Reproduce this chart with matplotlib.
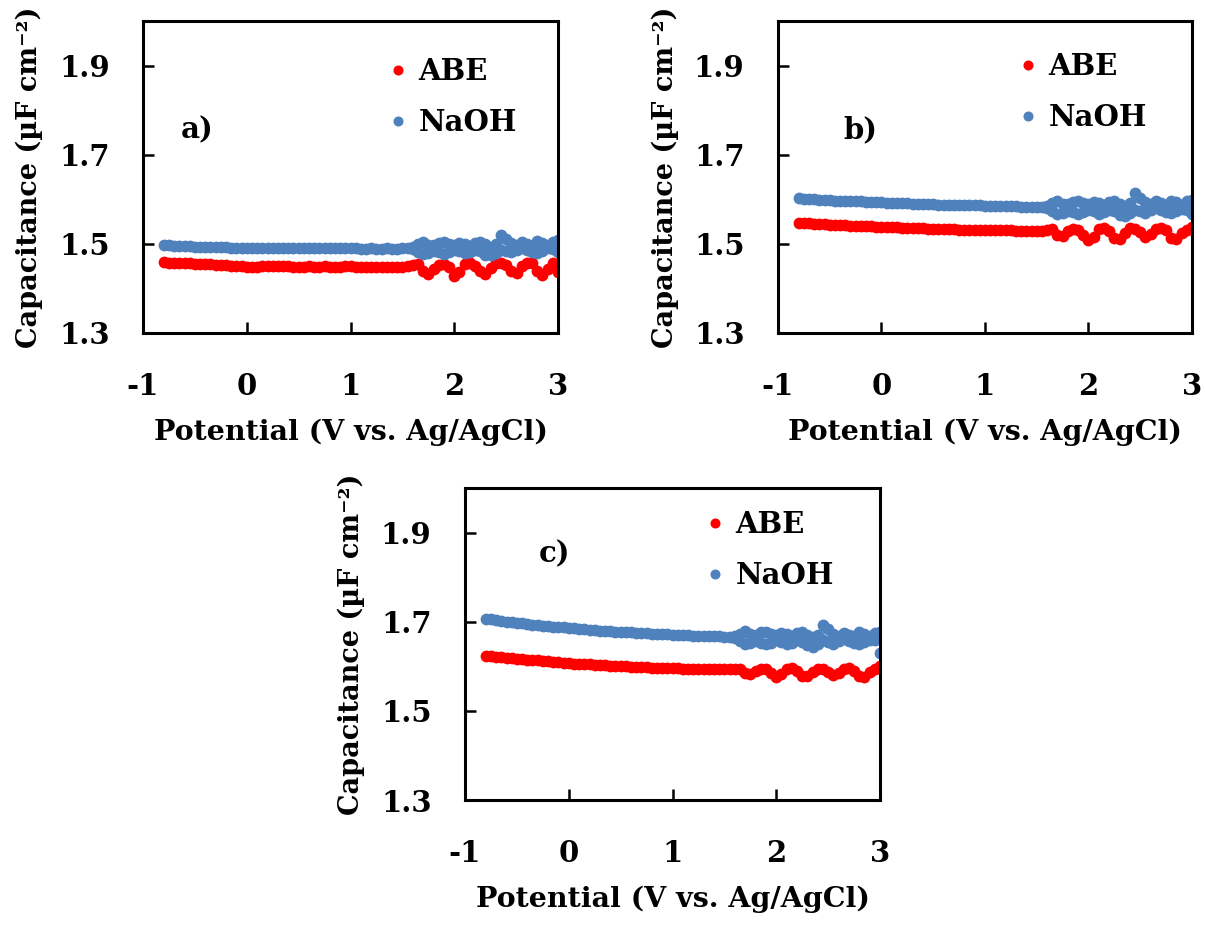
import matplotlib
matplotlib.use("Agg")
import matplotlib.pyplot as plt

plt.rcParams['font.family'] = ['DejaVu Serif']
plt.rcParams['font.weight'] = 'bold'
plt.rcParams['axes.unicode_minus'] = False

# ---------------- data ----------------
potential = [-0.80, -0.75, -0.70, -0.65, -0.60, -0.55, -0.50, -0.45, -0.40, -0.35,
             -0.30, -0.25, -0.20, -0.15, -0.10, -0.05, 0.00, 0.05, 0.10, 0.15,
             0.20, 0.25, 0.30, 0.35, 0.40, 0.45, 0.50, 0.55, 0.60, 0.65,
             0.70, 0.75, 0.80, 0.85, 0.90, 0.95, 1.00, 1.05, 1.10, 1.15,
             1.20, 1.25, 1.30, 1.35, 1.40, 1.45, 1.50, 1.55, 1.60, 1.65,
             1.70, 1.75, 1.80, 1.85, 1.90, 1.95, 2.00, 2.05, 2.10, 2.15,
             2.20, 2.25, 2.30, 2.35, 2.40, 2.45, 2.50, 2.55, 2.60, 2.65,
             2.70, 2.75, 2.80, 2.85, 2.90, 2.95, 3.00]

# return-scan points in the high-potential region
potential_rev = [1.60, 1.65, 1.70, 1.75, 1.80, 1.85, 1.90, 1.95, 2.00, 2.05,
                 2.10, 2.15, 2.20, 2.25, 2.30, 2.35, 2.40, 2.45, 2.50, 2.55,
                 2.60, 2.65, 2.70, 2.75, 2.80, 2.85, 2.90, 2.95, 3.00]

abe_a = [1.459, 1.458, 1.457, 1.457, 1.456, 1.456, 1.455, 1.455, 1.454, 1.454,
         1.453, 1.453, 1.452, 1.451, 1.451, 1.450, 1.449, 1.449, 1.449, 1.450,
         1.450, 1.450, 1.451, 1.450, 1.450, 1.449, 1.449, 1.449, 1.450, 1.449,
         1.449, 1.450, 1.449, 1.449, 1.449, 1.450, 1.450, 1.449, 1.448, 1.448,
         1.449, 1.448, 1.448, 1.449, 1.448, 1.447, 1.448, 1.450, 1.452, 1.455,
         1.440, 1.432, 1.444, 1.452, 1.454, 1.448, 1.428, 1.436, 1.455, 1.458,
         1.450, 1.438, 1.432, 1.446, 1.457, 1.456, 1.452, 1.440, 1.434, 1.450,
         1.458, 1.456, 1.440, 1.430, 1.443, 1.458, 1.436]
naoh_a = [1.497, 1.497, 1.496, 1.496, 1.495, 1.495, 1.494, 1.494, 1.494, 1.493,
          1.493, 1.492, 1.492, 1.491, 1.491, 1.490, 1.490, 1.490, 1.490, 1.490,
          1.491, 1.491, 1.490, 1.490, 1.490, 1.490, 1.491, 1.490, 1.490, 1.490,
          1.490, 1.490, 1.490, 1.490, 1.490, 1.491, 1.490, 1.490, 1.489, 1.489,
          1.490, 1.489, 1.489, 1.490, 1.489, 1.489, 1.490, 1.490, 1.492, 1.499,
          1.505, 1.498, 1.497, 1.502, 1.503, 1.499, 1.497, 1.501, 1.499, 1.496,
          1.502, 1.505, 1.499, 1.494, 1.499, 1.520, 1.510, 1.501, 1.497, 1.503,
          1.499, 1.496, 1.507, 1.502, 1.497, 1.505, 1.508]
naoh_a_rev = [1.489, 1.482, 1.478, 1.480, 1.484, 1.481, 1.478, 1.482, 1.486, 1.483,
              1.479, 1.482, 1.487, 1.483, 1.476, 1.474, 1.480, 1.487, 1.484, 1.481,
              1.486, 1.491, 1.487, 1.482, 1.480, 1.485, 1.490, 1.488, 1.481]

abe_b = [1.547, 1.546, 1.546, 1.545, 1.545, 1.544, 1.543, 1.543, 1.542, 1.542,
         1.541, 1.540, 1.540, 1.539, 1.539, 1.538, 1.538, 1.537, 1.537, 1.537,
         1.536, 1.536, 1.535, 1.535, 1.535, 1.534, 1.534, 1.534, 1.533, 1.533,
         1.533, 1.532, 1.532, 1.532, 1.531, 1.531, 1.531, 1.531, 1.530, 1.530,
         1.530, 1.530, 1.529, 1.529, 1.529, 1.529, 1.528, 1.529, 1.531, 1.533,
         1.520, 1.518, 1.528, 1.534, 1.532, 1.520, 1.509, 1.516, 1.533, 1.536,
         1.528, 1.512, 1.510, 1.524, 1.535, 1.534, 1.526, 1.516, 1.522, 1.533,
         1.536, 1.530, 1.512, 1.510, 1.524, 1.532, 1.538]
naoh_b = [1.602, 1.601, 1.600, 1.600, 1.599, 1.599, 1.598, 1.597, 1.597, 1.596,
          1.596, 1.595, 1.595, 1.594, 1.594, 1.593, 1.593, 1.592, 1.592, 1.591,
          1.591, 1.591, 1.590, 1.590, 1.589, 1.589, 1.589, 1.588, 1.588, 1.588,
          1.587, 1.587, 1.587, 1.586, 1.586, 1.586, 1.585, 1.585, 1.585, 1.584,
          1.584, 1.584, 1.584, 1.583, 1.583, 1.583, 1.582, 1.582, 1.584, 1.591,
          1.597, 1.590, 1.589, 1.594, 1.595, 1.591, 1.589, 1.593, 1.591, 1.588,
          1.593, 1.596, 1.590, 1.585, 1.591, 1.614, 1.603, 1.593, 1.590, 1.595,
          1.591, 1.588, 1.597, 1.593, 1.588, 1.595, 1.598]
naoh_b_rev = [1.581, 1.574, 1.568, 1.570, 1.574, 1.571, 1.567, 1.571, 1.577, 1.573,
              1.568, 1.571, 1.577, 1.573, 1.565, 1.563, 1.569, 1.577, 1.573, 1.570,
              1.575, 1.580, 1.576, 1.571, 1.569, 1.574, 1.579, 1.577, 1.566]

abe_c = [1.623, 1.622, 1.621, 1.620, 1.619, 1.618, 1.617, 1.616, 1.615, 1.614,
         1.613, 1.612, 1.611, 1.610, 1.609, 1.608, 1.607, 1.606, 1.606, 1.605,
         1.604, 1.603, 1.603, 1.602, 1.601, 1.601, 1.600, 1.600, 1.599, 1.599,
         1.598, 1.598, 1.597, 1.597, 1.597, 1.596, 1.596, 1.596, 1.595, 1.595,
         1.595, 1.594, 1.594, 1.594, 1.593, 1.593, 1.593, 1.593, 1.594, 1.595,
         1.585, 1.582, 1.590, 1.595, 1.593, 1.584, 1.577, 1.582, 1.594, 1.596,
         1.589, 1.579, 1.578, 1.587, 1.595, 1.594, 1.588, 1.581, 1.585, 1.593,
         1.596, 1.590, 1.578, 1.577, 1.587, 1.594, 1.600]
naoh_c = [1.707, 1.705, 1.703, 1.702, 1.700, 1.699, 1.697, 1.696, 1.695, 1.693,
          1.692, 1.691, 1.690, 1.689, 1.688, 1.687, 1.686, 1.685, 1.684, 1.683,
          1.682, 1.681, 1.680, 1.680, 1.679, 1.678, 1.677, 1.677, 1.676, 1.675,
          1.675, 1.674, 1.673, 1.673, 1.672, 1.672, 1.671, 1.671, 1.670, 1.670,
          1.669, 1.669, 1.668, 1.668, 1.667, 1.667, 1.666, 1.666, 1.667, 1.673,
          1.679, 1.672, 1.671, 1.676, 1.677, 1.672, 1.670, 1.674, 1.672, 1.669,
          1.674, 1.677, 1.671, 1.665, 1.671, 1.693, 1.683, 1.673, 1.669, 1.674,
          1.671, 1.667, 1.677, 1.673, 1.668, 1.675, 1.678]
naoh_c_rev = [1.663, 1.657, 1.650, 1.652, 1.656, 1.653, 1.649, 1.653, 1.658, 1.655,
              1.650, 1.653, 1.659, 1.655, 1.647, 1.644, 1.650, 1.658, 1.654, 1.651,
              1.656, 1.661, 1.657, 1.652, 1.650, 1.655, 1.660, 1.658, 1.630]

series_labels = ['ABE', 'NaOH']
panel_tags = ['a)', 'b)', 'c)']
x_ticks = [-1, 0, 1, 2, 3]
y_ticks = [1.3, 1.5, 1.7, 1.9]
y_tick_labels = ['1.3', '1.5', '1.7', '1.9']
x_label = 'Potential (V vs. Ag/AgCl)'
y_label = 'Capacitance (\u00b5F cm\u207b\u00b2)'

RED = '#FF0000'
BLUE = '#4F81BD'

panels = [
    dict(abe=abe_a, naoh=naoh_a, naoh_rev=naoh_a_rev,
         rect=[0.1187, 0.6408, 0.3444, 0.3366], tag_pos=(0.13, 0.65), leg=(0.593, 0.885)),
    dict(abe=abe_b, naoh=naoh_b, naoh_rev=naoh_b_rev,
         rect=[0.6456, 0.6408, 0.3436, 0.3366], tag_pos=(0.20, 0.65), leg=(0.583, 0.900)),
    dict(abe=abe_c, naoh=naoh_c, naoh_rev=naoh_c_rev,
         rect=[0.3859, 0.1370, 0.3444, 0.3366], tag_pos=(0.215, 0.79), leg=(0.581, 0.928)),
]

fig = plt.figure(figsize=(12.05, 9.27), dpi=100)
FS = 21
MS = 8.5

for p, tag in zip(panels, panel_tags):
    ax = fig.add_axes(p['rect'])
    ax.plot(potential, p['abe'], 'o', ms=MS, color=RED, mec='none', label=series_labels[0])
    ax.plot(potential, p['naoh'], 'o', ms=MS, color=BLUE, mec='none', label=series_labels[1])
    ax.plot(potential_rev, p['naoh_rev'], 'o', ms=MS, color=BLUE, mec='none')
    ax.set_xlim(-1, 3)
    ax.set_ylim(1.3, 2.0)
    ax.set_xticks(x_ticks)
    ax.set_xticklabels([str(t) for t in x_ticks])
    ax.set_yticks(y_ticks)
    ax.set_yticklabels(y_tick_labels)
    for s in ax.spines.values():
        s.set_linewidth(2.2)
    ax.tick_params(direction='in', length=8, width=1.8, labelsize=FS)
    ax.tick_params(axis='x', pad=28)
    ax.tick_params(axis='y', pad=24)
    for lab in ax.get_xticklabels() + ax.get_yticklabels():
        lab.set_fontweight('bold')
    ax.set_xlabel(x_label, fontsize=20.5, fontweight='bold')
    ax.set_ylabel(y_label, fontsize=19.5, fontweight='bold')
    ax.xaxis.set_label_coords(0.5, -0.275)
    ax.yaxis.set_label_coords(-0.24, 0.5)
    ax.text(p['tag_pos'][0], p['tag_pos'][1], tag, transform=ax.transAxes,
            fontsize=FS, fontweight='bold', ha='center', va='center')
    ax.legend(loc='upper left', bbox_to_anchor=p['leg'], frameon=False,
              handlelength=0.6, handletextpad=0.4,
              labelspacing=0.75, borderpad=0, borderaxespad=0,
              markerscale=0.85, prop={'weight': 'bold', 'size': FS})

fig.savefig('out.png', dpi=100)
